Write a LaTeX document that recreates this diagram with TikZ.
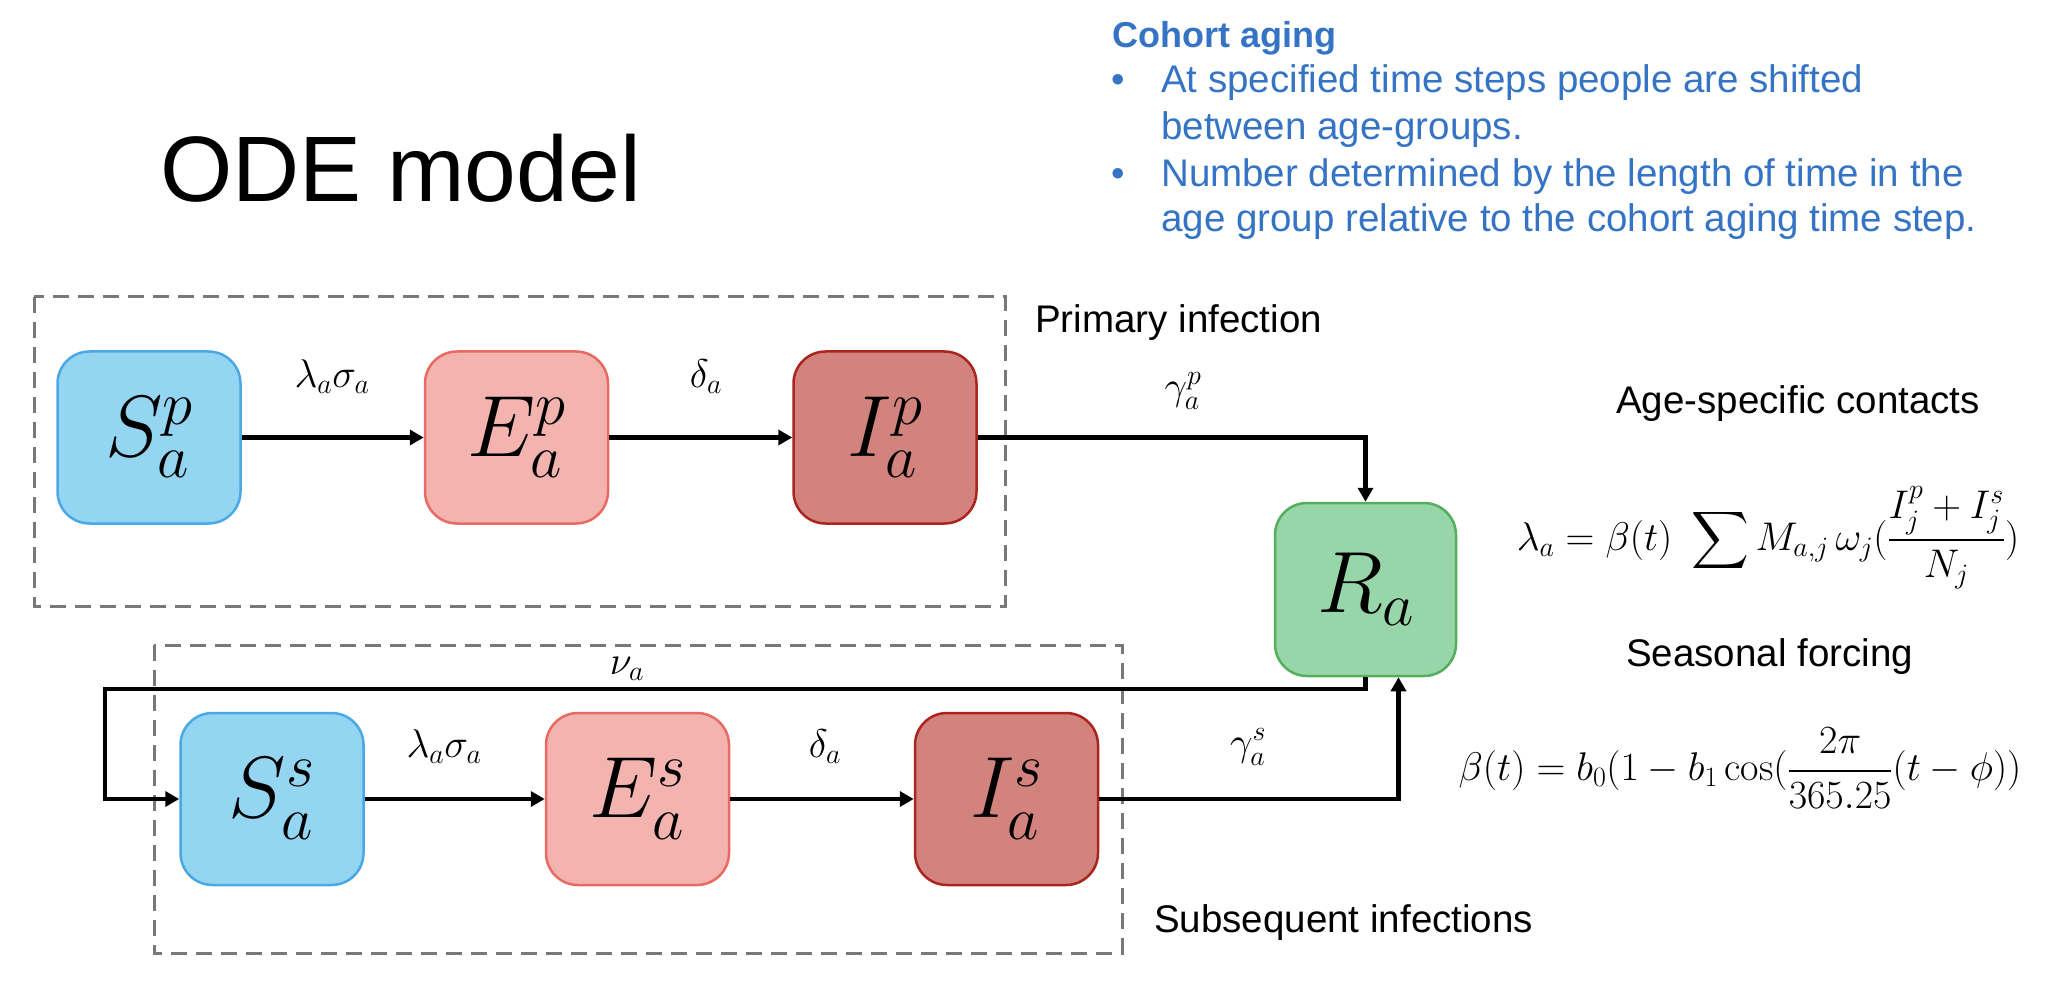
\RequirePackage{fix-cm}
\documentclass[tikz,border=0pt]{standalone}
\usepackage{fontspec}
\usepackage{amsmath}
\DeclareFontShape{OMX}{cmex}{m}{n}{<->cmex10}{}
\newfontfamily\arialf{Liberation Sans}
\usetikzlibrary{arrows.meta,calc}
\definecolor{sfill}{RGB}{148,213,242}
\definecolor{sdraw}{RGB}{74,168,228}
\definecolor{efill}{RGB}{243,180,175}
\definecolor{edraw}{RGB}{232,106,98}
\definecolor{ifill}{RGB}{210,131,126}
\definecolor{idraw}{RGB}{172,36,30}
\definecolor{rfill}{RGB}{150,214,168}
\definecolor{rdraw}{RGB}{84,174,92}
\definecolor{dashgray}{RGB}{120,120,120}
\definecolor{cblue}{RGB}{53,116,196}
\begin{document}
\begin{tikzpicture}[x=1pt,y=-1pt,
  comp/.style={rounded corners=32pt, minimum width=183pt, minimum height=172pt,
    line width=2.5pt, inner sep=0pt, font=\fontsize{87}{100}\selectfont},
  sbox/.style={comp, fill=sfill, draw=sdraw},
  ebox/.style={comp, fill=efill, draw=edraw},
  ibox/.style={comp, fill=ifill, draw=idraw},
  rbox/.style={comp, fill=rfill, draw=rdraw, minimum width=181pt, minimum height=173pt},
  flow/.style={line width=4.5pt, -{Triangle[length=14pt,width=15pt]}},
  frame/.style={draw=dashgray, line width=3pt, dash pattern=on 16pt off 9pt},
  rate/.style={font=\fontsize{40}{48}\selectfont, inner sep=0pt},
  lab/.style={font=\arialf\fontsize{38.5}{46}\selectfont, anchor=base west, inner sep=0pt},
  ctext/.style={text=cblue, font=\arialf\fontsize{38.5}{46}\selectfont, anchor=base west, inner sep=0pt},
  eqn/.style={font=\fontsize{40}{48}\selectfont, inner sep=0pt}
]
\useasboundingbox (0,0) rectangle (2046,1008);

% title
\node[anchor=base west, inner sep=0pt, font=\arialf\fontsize{93}{110}\selectfont] (title) at (160,202) {ODE model};

% cohort aging
\node[ctext, font=\arialf\bfseries\fontsize{36}{44}\selectfont] (chead) at (1112,48) {Cohort aging};
\node[ctext] (b1) at (1111,93) {•};
\node[ctext] (l1) at (1161,93) {At specified time steps people are shifted};
\node[ctext] (l2) at (1161,140) {between age-groups.};
\node[ctext] (b2) at (1111,187) {•};
\node[ctext] (l3) at (1161,187) {Number determined by the length of time in the};
\node[ctext] (l4) at (1161,232) {age group relative to the cohort aging time step.};

% frames
\draw[frame] (34,297) rectangle (1005,606);
\draw[frame] (154,645) rectangle (1122,953);

\node[lab] (prim) at (1035,333) {Primary infection};
\node[lab] (subs) at (1154,932) {Subsequent infections};
\node[lab] (agec) at (1616,413) {Age-specific contacts};
\node[lab] (seas) at (1626,666) {Seasonal forcing};

% compartments
\node[sbox] (Sp) at (149,437.5) {$S_a^p$};
\node[ebox] (Ep) at (516.5,437.5) {$E_a^p$};
\node[ibox] (Ip) at (885,437.5) {$I_a^p$};
\node[rbox] (R) at (1365.5,589.5) {$R_a$};
\node[sbox] (Ss) at (272,799) {$S_a^s$};
\node[ebox] (Es) at (637.5,799) {$E_a^s$};
\node[ibox] (Is) at (1006.5,799) {$I_a^s$};

\coordinate (nuL) at (105,689);

% flows
\draw[flow] (Sp) -- (Ep);
\draw[flow] (Ep) -- (Ip);
\draw[flow] (Ip.east) -| (R.north);
\draw[flow] (Ss) -- (Es);
\draw[flow] (Es) -- (Is);
\draw[flow] (Is.east) -| ([xshift=33pt]R.south);
\draw[flow] (R.south) |- (nuL) |- (Ss.west);

% rates
\node[rate] (r1) at (332,377) {$\lambda_a\sigma_a$};
\node[rate] (r2) at (706,377) {$\delta_a$};
\node[rate] (r3) at (1183,391) {$\gamma_a^p$};
\node[rate] (r4) at (627,669) {$\nu_a$};
\node[rate] (r5) at (444,747) {$\lambda_a\sigma_a$};
\node[rate] (r6) at (825,747) {$\delta_a$};
\node[rate] (r7) at (1248,747) {$\gamma_a^s$};

% equations
\node[eqn] (eq1) at (1768,538) {$\displaystyle \lambda_a = \beta(t)\ \sum M_{a,j}\,\omega_j(\frac{I_j^p + I_j^s}{N_j})$};
\node[eqn] (eq2) at (1740,768) {$\displaystyle \beta(t) = b_0(1 - b_1\cos(\frac{2\pi}{365.25}(t-\phi))$};
\end{tikzpicture}
\end{document}
